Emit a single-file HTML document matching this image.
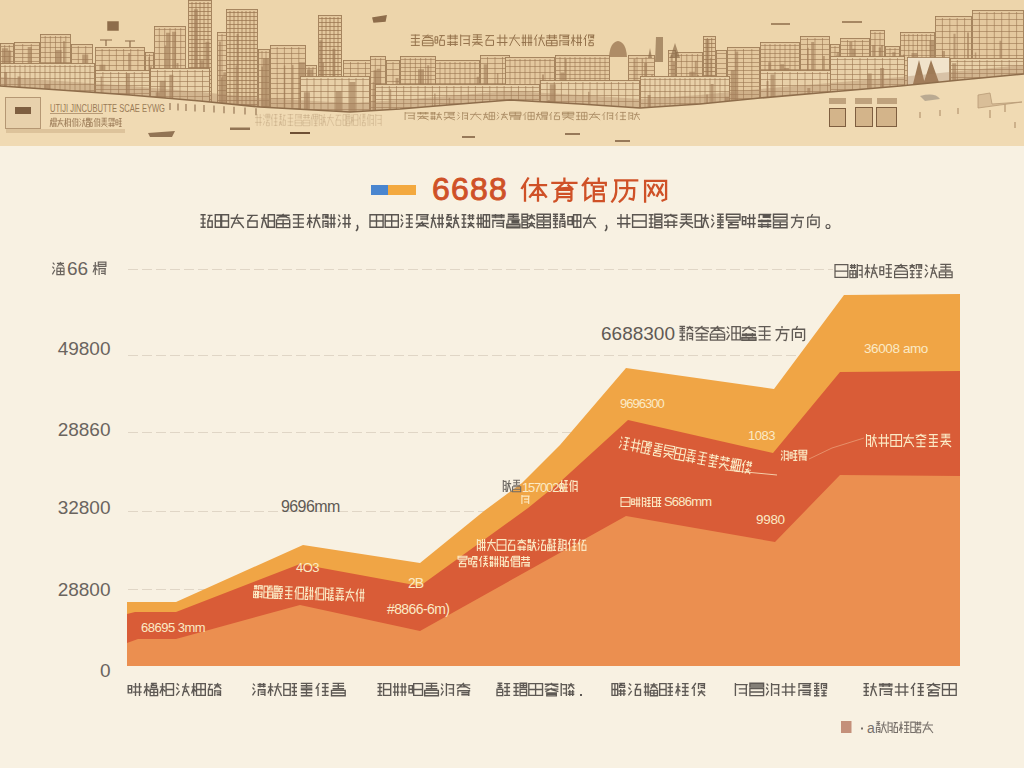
<!DOCTYPE html><html><head><meta charset="utf-8"><title>chart</title><style>html,body{margin:0;padding:0;background:#F8F1E2;width:1024px;height:768px;overflow:hidden}svg{display:block;font-family:"Liberation Sans",sans-serif}</style></head><body>
<svg width="1024" height="768" viewBox="0 0 1024 768">
<rect x="0" y="0" width="1024" height="146" fill="#EDD5AB"/>
<rect x="0.5" y="43.5" width="13" height="75" fill="#E4C89E" stroke="#9F7D58" stroke-width="0.9"/><path d="M1 46.5H13M1 51.5H13M1 56.5H13M1 61.5H13M1 66.5H13M1 71.5H13M1 76.5H13M1 81.5H13M1 86.5H13M1 91.5H13M1 96.5H13M1 101.5H13M1 106.5H13M1 111.5H13M1 116.5H13M4.7 45V118M9.3 45V118" stroke="#9A7651" stroke-width="0.8" opacity="0.75" fill="none"/><path d="M7.5 76.8H9V118H7.5ZM1.9 48.2H7.9V118H1.9ZM6.1 49.2H7.6V118H6.1ZM5.2 49.4H7.2V118H5.2ZM5.2 50.6H11.2V118H5.2Z" fill="#9E7A55" opacity="0.6"/>
<rect x="14.5" y="42.5" width="25" height="76" fill="#E4C89E" stroke="#9F7D58" stroke-width="0.9"/><path d="M15 45.5H39M15 49.5H39M15 53.5H39M15 57.5H39M15 61.5H39M15 65.5H39M15 69.5H39M15 73.5H39M15 77.5H39M15 81.5H39M15 85.5H39M15 89.5H39M15 93.5H39M15 97.5H39M15 101.5H39M15 105.5H39M15 109.5H39M15 113.5H39M15 117.5H39M22.7 44V118M31.3 44V118" stroke="#9A7651" stroke-width="0.8" opacity="0.75" fill="none"/><path d="M27.7 46.9H31.7V118H27.7ZM19.9 77.6H25.9V118H19.9Z" fill="#9E7A55" opacity="0.6"/>
<rect x="40.5" y="34.5" width="30" height="84" fill="#E4C89E" stroke="#9F7D58" stroke-width="0.9"/><path d="M41 37.5H70M41 42.5H70M41 47.5H70M41 52.5H70M41 57.5H70M41 62.5H70M41 67.5H70M41 72.5H70M41 77.5H70M41 82.5H70M41 87.5H70M41 92.5H70M41 97.5H70M41 102.5H70M41 107.5H70M41 112.5H70M41 117.5H70M45.2 36V118M50.3 36V118M55.5 36V118M60.7 36V118M65.8 36V118" stroke="#9A7651" stroke-width="0.8" opacity="0.75" fill="none"/><path d="M55.6 50H61.6V118H55.6ZM63 41.3H65V118H63ZM56.4 52.6H58.4V118H56.4Z" fill="#9E7A55" opacity="0.6"/>
<rect x="71.5" y="44.5" width="21" height="74" fill="#E4C89E" stroke="#9F7D58" stroke-width="0.9"/><path d="M72 47.5H92M72 53.5H92M72 59.5H92M72 65.5H92M72 71.5H92M72 77.5H92M72 83.5H92M72 89.5H92M72 95.5H92M72 101.5H92M72 107.5H92M72 113.5H92M78.3 46V118M85.7 46V118" stroke="#9A7651" stroke-width="0.8" opacity="0.75" fill="none"/><path d="M82.2 54.6H88.2V118H82.2ZM84.2 75.8H88.2V118H84.2Z" fill="#9E7A55" opacity="0.6"/>
<rect x="95.5" y="47.5" width="49" height="71" fill="#E4C89E" stroke="#9F7D58" stroke-width="0.9"/><path d="M96 50.5H144M96 55.5H144M96 60.5H144M96 65.5H144M96 70.5H144M96 75.5H144M96 80.5H144M96 85.5H144M96 90.5H144M96 95.5H144M96 100.5H144M96 105.5H144M96 110.5H144M96 115.5H144M102.1 49V118M109.3 49V118M116.4 49V118M123.6 49V118M130.7 49V118M137.9 49V118" stroke="#9A7651" stroke-width="0.8" opacity="0.75" fill="none"/><path d="M112.6 78.2H114.6V118H112.6ZM128.2 52.9H130.2V118H128.2ZM109.8 81.1H113.8V118H109.8ZM129.6 71.6H132.6V118H129.6ZM99.4 64.8H105.4V118H99.4Z" fill="#9E7A55" opacity="0.6"/>
<rect x="145.5" y="52.5" width="8" height="66" fill="#E4C89E" stroke="#9F7D58" stroke-width="0.9"/><path d="M146 55.5H153M146 60.5H153M146 65.5H153M146 70.5H153M146 75.5H153M146 80.5H153M146 85.5H153M146 90.5H153M146 95.5H153M146 100.5H153M146 105.5H153M146 110.5H153M146 115.5H153M149.5 54V118" stroke="#9A7651" stroke-width="0.8" opacity="0.75" fill="none"/><path d="M148.1 80.2H149.6V118H148.1ZM148.9 66.2H151.9V118H148.9ZM147.8 74.1H151.8V118H147.8ZM148.3 86.2H149.8V118H148.3ZM148.4 57H149.9V118H148.4Z" fill="#9E7A55" opacity="0.6"/>
<rect x="154.5" y="26.5" width="31" height="92" fill="#E4C89E" stroke="#9F7D58" stroke-width="0.9"/><path d="M155 29.5H185M155 35.5H185M155 41.5H185M155 47.5H185M155 53.5H185M155 59.5H185M155 65.5H185M155 71.5H185M155 77.5H185M155 83.5H185M155 89.5H185M155 95.5H185M155 101.5H185M155 107.5H185M155 113.5H185M159.3 28V118M164.7 28V118M170 28V118M175.3 28V118M180.7 28V118" stroke="#9A7651" stroke-width="0.8" opacity="0.75" fill="none"/><path d="M163 69.8H167V118H163ZM164.7 45.4H168.7V118H164.7ZM172.1 31.7H176.1V118H172.1ZM176.5 63H178.5V118H176.5ZM166.1 32.7H170.1V118H166.1Z" fill="#9E7A55" opacity="0.6"/>
<rect x="217.5" y="32.5" width="9" height="86" fill="#E4C89E" stroke="#9F7D58" stroke-width="0.9"/><path d="M218 35.5H226M218 40.5H226M218 45.5H226M218 50.5H226M218 55.5H226M218 60.5H226M218 65.5H226M218 70.5H226M218 75.5H226M218 80.5H226M218 85.5H226M218 90.5H226M218 95.5H226M218 100.5H226M218 105.5H226M218 110.5H226M218 115.5H226M222 34V118" stroke="#9A7651" stroke-width="0.8" opacity="0.75" fill="none"/><path d="M223.3 72.2H226V118H223.3ZM219.7 77.4H223.7V118H219.7ZM222.1 76.2H226V118H222.1ZM218.9 41.5H220.9V118H218.9Z" fill="#9E7A55" opacity="0.6"/>
<rect x="258.5" y="49.5" width="11" height="69" fill="#E4C89E" stroke="#9F7D58" stroke-width="0.9"/><path d="M259 52.5H269M259 58.5H269M259 64.5H269M259 70.5H269M259 76.5H269M259 82.5H269M259 88.5H269M259 94.5H269M259 100.5H269M259 106.5H269M259 112.5H269M262 51V118M266 51V118" stroke="#9A7651" stroke-width="0.8" opacity="0.75" fill="none"/><path d="M262.9 58.3H268.9V118H262.9ZM261.3 66.5H263.3V118H261.3Z" fill="#9E7A55" opacity="0.6"/>
<rect x="270.5" y="45.5" width="35" height="73" fill="#E4C89E" stroke="#9F7D58" stroke-width="0.9"/><path d="M271 48.5H305M271 53.5H305M271 58.5H305M271 63.5H305M271 68.5H305M271 73.5H305M271 78.5H305M271 83.5H305M271 88.5H305M271 93.5H305M271 98.5H305M271 103.5H305M271 108.5H305M271 113.5H305M277.2 47V118M284.4 47V118M291.6 47V118M298.8 47V118" stroke="#9A7651" stroke-width="0.8" opacity="0.75" fill="none"/><path d="M301.5 82.7H305V118H301.5ZM292 64.7H293.5V118H292ZM298.9 62.3H304.9V118H298.9ZM283.8 65.6H285.3V118H283.8Z" fill="#9E7A55" opacity="0.6"/>
<rect x="305.5" y="65.5" width="11" height="53" fill="#E4C89E" stroke="#9F7D58" stroke-width="0.9"/><path d="M306 68.5H316M306 73.5H316M306 78.5H316M306 83.5H316M306 88.5H316M306 93.5H316M306 98.5H316M306 103.5H316M306 108.5H316M306 113.5H316M309 67V118M313 67V118" stroke="#9A7651" stroke-width="0.8" opacity="0.75" fill="none"/><path d="M306.5 79.7H308.5V118H306.5ZM306.9 69.4H312.9V118H306.9ZM306 82.2H308V118H306Z" fill="#9E7A55" opacity="0.6"/>
<rect x="343.5" y="60.5" width="29" height="58" fill="#E4C89E" stroke="#9F7D58" stroke-width="0.9"/><path d="M344 63.5H372M344 68.5H372M344 73.5H372M344 78.5H372M344 83.5H372M344 88.5H372M344 93.5H372M344 98.5H372M344 103.5H372M344 108.5H372M344 113.5H372M350.5 62V118M358 62V118M365.5 62V118" stroke="#9A7651" stroke-width="0.8" opacity="0.75" fill="none"/><path d="M345.8 80.8H347.8V118H345.8ZM347.9 90.7H350.9V118H347.9Z" fill="#9E7A55" opacity="0.6"/>
<rect x="370.5" y="56.5" width="15" height="62" fill="#E4C89E" stroke="#9F7D58" stroke-width="0.9"/><path d="M371 59.5H385M371 65.5H385M371 71.5H385M371 77.5H385M371 83.5H385M371 89.5H385M371 95.5H385M371 101.5H385M371 107.5H385M371 113.5H385M375.3 58V118M380.7 58V118" stroke="#9A7651" stroke-width="0.8" opacity="0.75" fill="none"/><path d="M372.5 89.8H376.5V118H372.5ZM376.6 68.7H380.6V118H376.6ZM372.7 82H375.7V118H372.7ZM376.7 75H378.7V118H376.7ZM373.5 70.2H379.5V118H373.5Z" fill="#9E7A55" opacity="0.6"/>
<rect x="386.5" y="60.5" width="13" height="58" fill="#E4C89E" stroke="#9F7D58" stroke-width="0.9"/><path d="M387 63.5H399M387 69.5H399M387 75.5H399M387 81.5H399M387 87.5H399M387 93.5H399M387 99.5H399M387 105.5H399M387 111.5H399M387 117.5H399M393 62V118" stroke="#9A7651" stroke-width="0.8" opacity="0.75" fill="none"/><path d="M394.6 91.4H397.6V118H394.6ZM395.6 78H398.6V118H395.6Z" fill="#9E7A55" opacity="0.6"/>
<rect x="400.5" y="56.5" width="35" height="62" fill="#E4C89E" stroke="#9F7D58" stroke-width="0.9"/><path d="M401 59.5H435M401 63.5H435M401 67.5H435M401 71.5H435M401 75.5H435M401 79.5H435M401 83.5H435M401 87.5H435M401 91.5H435M401 95.5H435M401 99.5H435M401 103.5H435M401 107.5H435M401 111.5H435M401 115.5H435M405.1 58V118M410.3 58V118M415.4 58V118M420.6 58V118M425.7 58V118M430.9 58V118" stroke="#9A7651" stroke-width="0.8" opacity="0.75" fill="none"/><path d="M418 69.2H424V118H418ZM408.1 84H410.1V118H408.1ZM427.2 65.2H429.2V118H427.2Z" fill="#9E7A55" opacity="0.6"/>
<rect x="435.5" y="60.5" width="44" height="58" fill="#E4C89E" stroke="#9F7D58" stroke-width="0.9"/><path d="M436 63.5H479M436 68.5H479M436 73.5H479M436 78.5H479M436 83.5H479M436 88.5H479M436 93.5H479M436 98.5H479M436 103.5H479M436 108.5H479M436 113.5H479M440 62V118M445 62V118M450 62V118M455 62V118M460 62V118M465 62V118M470 62V118M475 62V118" stroke="#9A7651" stroke-width="0.8" opacity="0.75" fill="none"/><path d="M476.6 76.7H479V118H476.6ZM443.9 90.7H449.9V118H443.9Z" fill="#9E7A55" opacity="0.6"/>
<rect x="480.5" y="55.5" width="29" height="63" fill="#E4C89E" stroke="#9F7D58" stroke-width="0.9"/><path d="M481 58.5H509M481 63.5H509M481 68.5H509M481 73.5H509M481 78.5H509M481 83.5H509M481 88.5H509M481 93.5H509M481 98.5H509M481 103.5H509M481 108.5H509M481 113.5H509M487.5 57V118M495 57V118M502.5 57V118" stroke="#9A7651" stroke-width="0.8" opacity="0.75" fill="none"/><path d="M505.8 60.5H508.8V118H505.8ZM483.7 64.2H487.7V118H483.7ZM486.3 89H492.3V118H486.3ZM496.9 73.1H498.4V118H496.9Z" fill="#9E7A55" opacity="0.6"/>
<rect x="505.5" y="57.5" width="49" height="61" fill="#E4C89E" stroke="#9F7D58" stroke-width="0.9"/><path d="M506 60.5H554M506 66.5H554M506 72.5H554M506 78.5H554M506 84.5H554M506 90.5H554M506 96.5H554M506 102.5H554M506 108.5H554M506 114.5H554M510 59V118M515 59V118M520 59V118M525 59V118M530 59V118M535 59V118M540 59V118M545 59V118M550 59V118" stroke="#9A7651" stroke-width="0.8" opacity="0.75" fill="none"/><path d="M544.4 87.7H545.9V118H544.4ZM542 74.6H544V118H542Z" fill="#9E7A55" opacity="0.6"/>
<rect x="555.5" y="55.5" width="54" height="63" fill="#E4C89E" stroke="#9F7D58" stroke-width="0.9"/><path d="M556 58.5H609M556 62.5H609M556 66.5H609M556 70.5H609M556 74.5H609M556 78.5H609M556 82.5H609M556 86.5H609M556 90.5H609M556 94.5H609M556 98.5H609M556 102.5H609M556 106.5H609M556 110.5H609M556 114.5H609M560 57V118M565 57V118M570 57V118M575 57V118M580 57V118M585 57V118M590 57V118M595 57V118M600 57V118M605 57V118" stroke="#9A7651" stroke-width="0.8" opacity="0.75" fill="none"/><path d="M560.4 72.6H564.4V118H560.4ZM593.9 80.8H595.4V118H593.9ZM564.7 58.9H566.7V118H564.7ZM586.1 83.4H590.1V118H586.1Z" fill="#9E7A55" opacity="0.6"/>
<rect x="628.5" y="55.5" width="26" height="63" fill="#E4C89E" stroke="#9F7D58" stroke-width="0.9"/><path d="M629 58.5H654M629 62.5H654M629 66.5H654M629 70.5H654M629 74.5H654M629 78.5H654M629 82.5H654M629 86.5H654M629 90.5H654M629 94.5H654M629 98.5H654M629 102.5H654M629 106.5H654M629 110.5H654M629 114.5H654M637 57V118M646 57V118" stroke="#9A7651" stroke-width="0.8" opacity="0.75" fill="none"/><path d="M644.1 62.9H647.1V118H644.1ZM641.6 58.4H643.1V118H641.6ZM651.3 74.6H652.8V118H651.3ZM650.5 89.1H654V118H650.5ZM633.5 58.9H635.5V118H633.5Z" fill="#9E7A55" opacity="0.6"/>
<rect x="668.5" y="50.5" width="7" height="68" fill="#E4C89E" stroke="#9F7D58" stroke-width="0.9"/><path d="M669 53.5H675M669 57.5H675M669 61.5H675M669 65.5H675M669 69.5H675M669 73.5H675M669 77.5H675M669 81.5H675M669 85.5H675M669 89.5H675M669 93.5H675M669 97.5H675M669 101.5H675M669 105.5H675M669 109.5H675M669 113.5H675M669 117.5H675" stroke="#9A7651" stroke-width="0.8" opacity="0.75" fill="none"/><path d="M672.1 61.8H675V118H672.1ZM670.7 55.1H672.7V118H670.7ZM672 75.5H675V118H672Z" fill="#9E7A55" opacity="0.6"/>
<rect x="676.5" y="52.5" width="26" height="66" fill="#E4C89E" stroke="#9F7D58" stroke-width="0.9"/><path d="M677 55.5H702M677 61.5H702M677 67.5H702M677 73.5H702M677 79.5H702M677 85.5H702M677 91.5H702M677 97.5H702M677 103.5H702M677 109.5H702M677 115.5H702M681.4 54V118M686.8 54V118M692.2 54V118M697.6 54V118" stroke="#9A7651" stroke-width="0.8" opacity="0.75" fill="none"/><path d="M689.2 71.8H695.2V118H689.2ZM697.1 75.1H699.1V118H697.1ZM694.8 60.7H696.8V118H694.8Z" fill="#9E7A55" opacity="0.6"/>
<rect x="716.5" y="50.5" width="10" height="68" fill="#E4C89E" stroke="#9F7D58" stroke-width="0.9"/><path d="M717 53.5H726M717 58.5H726M717 63.5H726M717 68.5H726M717 73.5H726M717 78.5H726M717 83.5H726M717 88.5H726M717 93.5H726M717 98.5H726M717 103.5H726M717 108.5H726M717 113.5H726" stroke="#9A7651" stroke-width="0.8" opacity="0.75" fill="none"/><path d="M720.9 76.2H723.9V118H720.9ZM720.7 79.7H724.7V118H720.7Z" fill="#9E7A55" opacity="0.6"/>
<rect x="727.5" y="47.5" width="32" height="71" fill="#E4C89E" stroke="#9F7D58" stroke-width="0.9"/><path d="M728 50.5H759M728 54.5H759M728 58.5H759M728 62.5H759M728 66.5H759M728 70.5H759M728 74.5H759M728 78.5H759M728 82.5H759M728 86.5H759M728 90.5H759M728 94.5H759M728 98.5H759M728 102.5H759M728 106.5H759M728 110.5H759M728 114.5H759M735.2 49V118M743.5 49V118M751.8 49V118" stroke="#9A7651" stroke-width="0.8" opacity="0.75" fill="none"/><path d="M735.2 51.5H738.2V118H735.2ZM730.8 69.9H734.8V118H730.8Z" fill="#9E7A55" opacity="0.6"/>
<rect x="760.5" y="42.5" width="39" height="76" fill="#E4C89E" stroke="#9F7D58" stroke-width="0.9"/><path d="M761 45.5H799M761 49.5H799M761 53.5H799M761 57.5H799M761 61.5H799M761 65.5H799M761 69.5H799M761 73.5H799M761 77.5H799M761 81.5H799M761 85.5H799M761 89.5H799M761 93.5H799M761 97.5H799M761 101.5H799M761 105.5H799M761 109.5H799M761 113.5H799M761 117.5H799M765 44V118M770 44V118M775 44V118M780 44V118M785 44V118M790 44V118M795 44V118" stroke="#9A7651" stroke-width="0.8" opacity="0.75" fill="none"/><path d="M783.1 68H789.1V118H783.1ZM768.2 62.2H771.2V118H768.2ZM780.2 64.3H784.2V118H780.2ZM769.9 78.3H775.9V118H769.9Z" fill="#9E7A55" opacity="0.6"/>
<rect x="800.5" y="36.5" width="29" height="82" fill="#E4C89E" stroke="#9F7D58" stroke-width="0.9"/><path d="M801 39.5H829M801 44.5H829M801 49.5H829M801 54.5H829M801 59.5H829M801 64.5H829M801 69.5H829M801 74.5H829M801 79.5H829M801 84.5H829M801 89.5H829M801 94.5H829M801 99.5H829M801 104.5H829M801 109.5H829M801 114.5H829M807.5 38V118M815 38V118M822.5 38V118" stroke="#9A7651" stroke-width="0.8" opacity="0.75" fill="none"/><path d="M822.8 56.1H824.8V118H822.8ZM811.2 42H814.2V118H811.2ZM807.3 47.7H808.8V118H807.3Z" fill="#9E7A55" opacity="0.6"/>
<rect x="830.5" y="44.5" width="9" height="74" fill="#E4C89E" stroke="#9F7D58" stroke-width="0.9"/><path d="M831 47.5H839M831 52.5H839M831 57.5H839M831 62.5H839M831 67.5H839M831 72.5H839M831 77.5H839M831 82.5H839M831 87.5H839M831 92.5H839M831 97.5H839M831 102.5H839M831 107.5H839M831 112.5H839M831 117.5H839M835 46V118" stroke="#9A7651" stroke-width="0.8" opacity="0.75" fill="none"/><path d="M836.6 52.3H839V118H836.6ZM836.3 55.1H839V118H836.3ZM836.7 79.7H839V118H836.7Z" fill="#9E7A55" opacity="0.6"/>
<rect x="840.5" y="38.5" width="29" height="80" fill="#E4C89E" stroke="#9F7D58" stroke-width="0.9"/><path d="M841 41.5H869M841 45.5H869M841 49.5H869M841 53.5H869M841 57.5H869M841 61.5H869M841 65.5H869M841 69.5H869M841 73.5H869M841 77.5H869M841 81.5H869M841 85.5H869M841 89.5H869M841 93.5H869M841 97.5H869M841 101.5H869M841 105.5H869M841 109.5H869M841 113.5H869M841 117.5H869M847.5 40V118M855 40V118M862.5 40V118" stroke="#9A7651" stroke-width="0.8" opacity="0.75" fill="none"/><path d="M845.2 80.8H849.2V118H845.2ZM851.5 48.8H855.5V118H851.5ZM849.3 41.8H852.3V118H849.3Z" fill="#9E7A55" opacity="0.6"/>
<rect x="870.5" y="30.5" width="14" height="88" fill="#E4C89E" stroke="#9F7D58" stroke-width="0.9"/><path d="M871 33.5H884M871 39.5H884M871 45.5H884M871 51.5H884M871 57.5H884M871 63.5H884M871 69.5H884M871 75.5H884M871 81.5H884M871 87.5H884M871 93.5H884M871 99.5H884M871 105.5H884M871 111.5H884M871 117.5H884M875 32V118M880 32V118" stroke="#9A7651" stroke-width="0.8" opacity="0.75" fill="none"/><path d="M878.7 47.6H882.7V118H878.7ZM877.9 75.3H883.9V118H877.9ZM872.2 75.8H874.2V118H872.2ZM872.2 45H875.2V118H872.2ZM881 44.9H883V118H881Z" fill="#9E7A55" opacity="0.6"/>
<rect x="885.5" y="46.5" width="14" height="72" fill="#E4C89E" stroke="#9F7D58" stroke-width="0.9"/><path d="M886 49.5H899M886 53.5H899M886 57.5H899M886 61.5H899M886 65.5H899M886 69.5H899M886 73.5H899M886 77.5H899M886 81.5H899M886 85.5H899M886 89.5H899M886 93.5H899M886 97.5H899M886 101.5H899M886 105.5H899M886 109.5H899M886 113.5H899M886 117.5H899M890 48V118M895 48V118" stroke="#9A7651" stroke-width="0.8" opacity="0.75" fill="none"/><path d="M890.5 82.1H896.5V118H890.5ZM892.3 52.2H895.3V118H892.3ZM886.6 64.3H888.6V118H886.6ZM886.8 71.8H888.3V118H886.8Z" fill="#9E7A55" opacity="0.6"/>
<rect x="900.5" y="32.5" width="34" height="86" fill="#E4C89E" stroke="#9F7D58" stroke-width="0.9"/><path d="M901 35.5H934M901 40.5H934M901 45.5H934M901 50.5H934M901 55.5H934M901 60.5H934M901 65.5H934M901 70.5H934M901 75.5H934M901 80.5H934M901 85.5H934M901 90.5H934M901 95.5H934M901 100.5H934M901 105.5H934M901 110.5H934M901 115.5H934M904.4 34V118M908.8 34V118M913.1 34V118M917.5 34V118M921.9 34V118M926.2 34V118M930.6 34V118" stroke="#9A7651" stroke-width="0.8" opacity="0.75" fill="none"/><path d="M903.1 54.5H904.6V118H903.1ZM911.5 53H917.5V118H911.5ZM929.4 40.6H934V118H929.4Z" fill="#9E7A55" opacity="0.6"/>
<rect x="935.5" y="16.5" width="36" height="102" fill="#E4C89E" stroke="#9F7D58" stroke-width="0.9"/><path d="M936 19.5H971M936 25.5H971M936 31.5H971M936 37.5H971M936 43.5H971M936 49.5H971M936 55.5H971M936 61.5H971M936 67.5H971M936 73.5H971M936 79.5H971M936 85.5H971M936 91.5H971M936 97.5H971M936 103.5H971M936 109.5H971M936 115.5H971M942.4 18V118M949.8 18V118M957.2 18V118M964.6 18V118" stroke="#9A7651" stroke-width="0.8" opacity="0.75" fill="none"/><path d="M967 32.4H969V118H967ZM942 51.1H945V118H942ZM953.5 33.8H955.5V118H953.5Z" fill="#9E7A55" opacity="0.6"/>
<rect x="972.5" y="10.5" width="51" height="108" fill="#E4C89E" stroke="#9F7D58" stroke-width="0.9"/><path d="M973 13.5H1023M973 19.5H1023M973 25.5H1023M973 31.5H1023M973 37.5H1023M973 43.5H1023M973 49.5H1023M973 55.5H1023M973 61.5H1023M973 67.5H1023M973 73.5H1023M973 79.5H1023M973 85.5H1023M973 91.5H1023M973 97.5H1023M973 103.5H1023M973 109.5H1023M973 115.5H1023M979.4 12V118M986.9 12V118M994.3 12V118M1001.7 12V118M1009.1 12V118M1016.6 12V118" stroke="#9A7651" stroke-width="0.8" opacity="0.75" fill="none"/><path d="M986 66.7H987.5V118H986ZM974.8 52.6H976.3V118H974.8ZM999.5 40.8H1001.5V118H999.5Z" fill="#9E7A55" opacity="0.6"/>
<rect x="188.5" y="0.5" width="23" height="118" fill="#E4C89E" stroke="#9F7D58" stroke-width="0.9"/><path d="M189 3.5H211M189 7.5H211M189 11.5H211M189 15.5H211M189 19.5H211M189 23.5H211M189 27.5H211M189 31.5H211M189 35.5H211M189 39.5H211M189 43.5H211M189 47.5H211M189 51.5H211M189 55.5H211M189 59.5H211M189 63.5H211M189 67.5H211M189 71.5H211M189 75.5H211M189 79.5H211M189 83.5H211M189 87.5H211M189 91.5H211M189 95.5H211M189 99.5H211M189 103.5H211M189 107.5H211M189 111.5H211M189 115.5H211M192 2V118M196 2V118M200 2V118M204 2V118M208 2V118" stroke="#9A7651" stroke-width="0.8" opacity="0.95" fill="none"/><path d="M193.9 9.3H197.9V118H193.9ZM205.4 41.7H209.4V118H205.4ZM199.9 60.2H203.9V118H199.9Z" fill="#9E7A55" opacity="0.6"/>
<rect x="226.5" y="9.5" width="31" height="109" fill="#E4C89E" stroke="#9F7D58" stroke-width="0.9"/><path d="M227 12.5H257M227 16.5H257M227 20.5H257M227 24.5H257M227 28.5H257M227 32.5H257M227 36.5H257M227 40.5H257M227 44.5H257M227 48.5H257M227 52.5H257M227 56.5H257M227 60.5H257M227 64.5H257M227 68.5H257M227 72.5H257M227 76.5H257M227 80.5H257M227 84.5H257M227 88.5H257M227 92.5H257M227 96.5H257M227 100.5H257M227 104.5H257M227 108.5H257M227 112.5H257M227 116.5H257M230 11V118M234 11V118M238 11V118M242 11V118M246 11V118M250 11V118M254 11V118" stroke="#9A7651" stroke-width="0.8" opacity="0.95" fill="none"/><path d="M235.6 65.5H237.6V118H235.6ZM236.6 34.1H238.6V118H236.6ZM236.7 57.6H238.2V118H236.7Z" fill="#9E7A55" opacity="0.6"/>
<rect x="318.5" y="15.5" width="23" height="103" fill="#E4C89E" stroke="#9F7D58" stroke-width="0.9"/><path d="M319 18.5H341M319 22.5H341M319 26.5H341M319 30.5H341M319 34.5H341M319 38.5H341M319 42.5H341M319 46.5H341M319 50.5H341M319 54.5H341M319 58.5H341M319 62.5H341M319 66.5H341M319 70.5H341M319 74.5H341M319 78.5H341M319 82.5H341M319 86.5H341M319 90.5H341M319 94.5H341M319 98.5H341M319 102.5H341M319 106.5H341M319 110.5H341M319 114.5H341M322 17V118M326 17V118M330 17V118M334 17V118M338 17V118" stroke="#9A7651" stroke-width="0.8" opacity="0.95" fill="none"/><path d="M319.3 40.2H322.3V118H319.3ZM320.1 62.8H324.1V118H320.1ZM332.4 48.8H335.4V118H332.4Z" fill="#9E7A55" opacity="0.6"/>
<rect x="703.5" y="36.5" width="12" height="82" fill="#E4C89E" stroke="#9F7D58" stroke-width="0.9"/><path d="M704 39.5H715M704 43.5H715M704 47.5H715M704 51.5H715M704 55.5H715M704 59.5H715M704 63.5H715M704 67.5H715M704 71.5H715M704 75.5H715M704 79.5H715M704 83.5H715M704 87.5H715M704 91.5H715M704 95.5H715M704 99.5H715M704 103.5H715M704 107.5H715M704 111.5H715M704 115.5H715M707.3 38V118M711.7 38V118" stroke="#9A7651" stroke-width="0.8" opacity="0.95" fill="none"/><path d="M710.2 57.8H711.7V118H710.2ZM705.4 39.1H709.4V118H705.4ZM707.3 78.9H710.3V118H707.3Z" fill="#9E7A55" opacity="0.6"/>
<path d="M609 57 Q610 42 618 41 Q626 42 627 57Z" fill="#A27F59" opacity="0.85"/>
<path d="M655 62 L656 37 L663 37 L663 62Z" fill="#8E6D4B" opacity="0.7"/><path d="M670 58 L675 43 L680 58Z M648 58 L650 48 L652 58Z" fill="#8E6D4B" opacity="0.7"/>
<path d="M100 40 H112 M106 40 V46 M125 41 H135 M130 41 V47" stroke="#8E6D4B" stroke-width="1.2"/>
<rect x="0.5" y="63.5" width="94" height="55" fill="#E8D0A8" stroke="#9F7D58" stroke-width="0.9"/><path d="M1 66.5H94M1 72.5H94M1 78.5H94M1 84.5H94M1 90.5H94M1 96.5H94M1 102.5H94M1 108.5H94M1 114.5H94M5 65V118M10 65V118M15 65V118M20 65V118M25 65V118M30 65V118M35 65V118M40 65V118M45 65V118M50 65V118M55 65V118M60 65V118M65 65V118M70 65V118M75 65V118M80 65V118M85 65V118M90 65V118" stroke="#9A7651" stroke-width="0.8" opacity="0.75" fill="none"/><path d="M4.1 72H7.1V118H4.1ZM17.6 76.5H20.6V118H17.6ZM44.2 84H50.2V118H44.2Z" fill="#9E7A55" opacity="0.6"/>
<rect x="95.5" y="70.5" width="54" height="48" fill="#E8D0A8" stroke="#9F7D58" stroke-width="0.9"/><path d="M96 73.5H149M96 77.5H149M96 81.5H149M96 85.5H149M96 89.5H149M96 93.5H149M96 97.5H149M96 101.5H149M96 105.5H149M96 109.5H149M96 113.5H149M96 117.5H149M102.9 72V118M110.7 72V118M118.6 72V118M126.4 72V118M134.3 72V118M142.1 72V118" stroke="#9A7651" stroke-width="0.8" opacity="0.75" fill="none"/><path d="M100.6 76.5H102.1V118H100.6ZM125.9 73.5H129.9V118H125.9Z" fill="#9E7A55" opacity="0.6"/>
<rect x="150.5" y="68.5" width="59" height="50" fill="#E8D0A8" stroke="#9F7D58" stroke-width="0.9"/><path d="M151 71.5H209M151 76.5H209M151 81.5H209M151 86.5H209M151 91.5H209M151 96.5H209M151 101.5H209M151 106.5H209M151 111.5H209M151 116.5H209M157.5 70V118M165 70V118M172.5 70V118M180 70V118M187.5 70V118M195 70V118M202.5 70V118" stroke="#9A7651" stroke-width="0.8" opacity="0.75" fill="none"/><path d="M155.7 92.3H161.7V118H155.7ZM159.7 80.7H165.7V118H159.7ZM169.3 74.7H173.3V118H169.3Z" fill="#9E7A55" opacity="0.6"/>
<rect x="300.5" y="76.5" width="69" height="42" fill="#E8D0A8" stroke="#9F7D58" stroke-width="0.9"/><path d="M301 79.5H369M301 85.5H369M301 91.5H369M301 97.5H369M301 103.5H369M301 109.5H369M301 115.5H369M307 78V118M314 78V118M321 78V118M328 78V118M335 78V118M342 78V118M349 78V118M356 78V118M363 78V118" stroke="#9A7651" stroke-width="0.8" opacity="0.75" fill="none"/><path d="M303.9 92.2H309.9V118H303.9ZM349.4 81.9H355.4V118H349.4ZM335.6 90.9H341.6V118H335.6Z" fill="#9E7A55" opacity="0.6"/>
<rect x="375.5" y="84.5" width="164" height="34" fill="#E8D0A8" stroke="#9F7D58" stroke-width="0.9"/><path d="M376 87.5H539M376 91.5H539M376 95.5H539M376 99.5H539M376 103.5H539M376 107.5H539M376 111.5H539M376 115.5H539M382.2 86V118M389.3 86V118M396.5 86V118M403.7 86V118M410.9 86V118M418 86V118M425.2 86V118M432.4 86V118M439.6 86V118M446.7 86V118M453.9 86V118M461.1 86V118M468.3 86V118M475.4 86V118M482.6 86V118M489.8 86V118M497 86V118M504.1 86V118M511.3 86V118M518.5 86V118M525.7 86V118M532.8 86V118" stroke="#9A7651" stroke-width="0.8" opacity="0.75" fill="none"/><path d="M389.7 89.3H391.2V118H389.7ZM434.1 93.4H435.6V118H434.1ZM448.7 97.7H450.2V118H448.7Z" fill="#9E7A55" opacity="0.6"/>
<rect x="540.5" y="80.5" width="99" height="38" fill="#E8D0A8" stroke="#9F7D58" stroke-width="0.9"/><path d="M541 83.5H639M541 89.5H639M541 95.5H639M541 101.5H639M541 107.5H639M541 113.5H639M547.1 82V118M554.3 82V118M561.4 82V118M568.6 82V118M575.7 82V118M582.9 82V118M590 82V118M597.1 82V118M604.3 82V118M611.4 82V118M618.6 82V118M625.7 82V118M632.9 82V118" stroke="#9A7651" stroke-width="0.8" opacity="0.75" fill="none"/><path d="M588 91.7H589.5V118H588ZM547.7 100.1H553.7V118H547.7ZM549.8 84.3H555.8V118H549.8Z" fill="#9E7A55" opacity="0.6"/>
<rect x="640.5" y="76.5" width="89" height="42" fill="#E8D0A8" stroke="#9F7D58" stroke-width="0.9"/><path d="M641 79.5H729M641 85.5H729M641 91.5H729M641 97.5H729M641 103.5H729M641 109.5H729M641 115.5H729M645 78V118M650 78V118M655 78V118M660 78V118M665 78V118M670 78V118M675 78V118M680 78V118M685 78V118M690 78V118M695 78V118M700 78V118M705 78V118M710 78V118M715 78V118M720 78V118M725 78V118" stroke="#9A7651" stroke-width="0.8" opacity="0.75" fill="none"/><path d="M710.6 83.9H713.6V118H710.6ZM706.1 94.5H708.1V118H706.1ZM724.9 96.8H728.9V118H724.9ZM647.6 95.1H650.6V118H647.6Z" fill="#9E7A55" opacity="0.6"/>
<rect x="760.5" y="70.5" width="74" height="48" fill="#E8D0A8" stroke="#9F7D58" stroke-width="0.9"/><path d="M761 73.5H834M761 79.5H834M761 85.5H834M761 91.5H834M761 97.5H834M761 103.5H834M761 109.5H834M761 115.5H834M767.5 72V118M775 72V118M782.5 72V118M790 72V118M797.5 72V118M805 72V118M812.5 72V118M820 72V118M827.5 72V118" stroke="#9A7651" stroke-width="0.8" opacity="0.75" fill="none"/><path d="M766.5 81H768.5V118H766.5ZM807.3 87.9H810.3V118H807.3ZM770.5 74.5H774.5V118H770.5Z" fill="#9E7A55" opacity="0.6"/>
<rect x="830.5" y="56.5" width="74" height="62" fill="#E8D0A8" stroke="#9F7D58" stroke-width="0.9"/><path d="M831 59.5H904M831 64.5H904M831 69.5H904M831 74.5H904M831 79.5H904M831 84.5H904M831 89.5H904M831 94.5H904M831 99.5H904M831 104.5H904M831 109.5H904M831 114.5H904M837.5 58V118M845 58V118M852.5 58V118M860 58V118M867.5 58V118M875 58V118M882.5 58V118M890 58V118M897.5 58V118" stroke="#9A7651" stroke-width="0.8" opacity="0.75" fill="none"/><path d="M880.1 68H884.1V118H880.1ZM867.7 73.4H871.7V118H867.7Z" fill="#9E7A55" opacity="0.6"/>
<rect x="950.5" y="58.5" width="73" height="60" fill="#E8D0A8" stroke="#9F7D58" stroke-width="0.9"/><path d="M951 61.5H1023M951 65.5H1023M951 69.5H1023M951 73.5H1023M951 77.5H1023M951 81.5H1023M951 85.5H1023M951 89.5H1023M951 93.5H1023M951 97.5H1023M951 101.5H1023M951 105.5H1023M951 109.5H1023M951 113.5H1023M951 117.5H1023M957.4 60V118M964.8 60V118M972.2 60V118M979.6 60V118M987 60V118M994.4 60V118M1001.8 60V118M1009.2 60V118M1016.6 60V118" stroke="#9A7651" stroke-width="0.8" opacity="0.75" fill="none"/><path d="M972.8 89.1H974.3V118H972.8ZM952.2 63.3H956.2V118H952.2ZM986.5 90.8H990.5V118H986.5Z" fill="#9E7A55" opacity="0.6"/>
<rect x="907.5" y="57.5" width="42" height="31" fill="#F1E3CB" stroke="#9F7D58" stroke-width="0.8"/>
<path d="M912 88 L919 60 L926 88Z M922 88 L931 60 L941 88Z" fill="#9E7A56"/>
<polygon points="0,77 60,81 130,86 200,92 260,98 350,103 400,100 460,95 510,91 580,95 640,99 700,95 760,89 830,83 900,77 960,71 1024,65 1024,74 960,80 900,86 830,92 760,98 700,104 640,108 580,104 510,100 460,104 400,109 350,112 260,107 200,101 130,95 60,90 0,86" fill="#A98560" opacity="0.35"/>
<polygon points="0,86 60,90 130,95 200,101 260,107 350,112 400,109 460,104 510,100 580,104 640,108 700,104 760,98 830,92 900,86 960,80 1024,74 1024,146 0,146" fill="#F0DAB3"/>
<polyline points="0,86 60,90 130,95 200,101 260,107 350,112 400,109 460,104 510,100 580,104 640,108 700,104 760,98 830,92 900,86 960,80 1024,74" fill="none" stroke="#8E6D4B" stroke-width="1.6"/>
<rect x="5.5" y="97.5" width="35" height="31" fill="#E8D1AC" stroke="#B59773" stroke-width="1"/>
<path d="M15 107H31V114H15Z" fill="#7E5E40"/>
<text x="50" y="111.5" font-size="11" fill="#9A7A56" textLength="115" lengthAdjust="spacingAndGlyphs">UTIJI  JINCUBUTTE SCAE EYWG</text>
<path d="M170 103.0V110.0M178 103.5V110.5M186 104.0V111.0M195 104.5V111.5M204 105.0V112.0M214 105.6V112.6M224 106.2V113.2M234 106.8V113.8M245 107.5V114.5M256 108.2V115.2" stroke="#8E6E4D" stroke-width="1.1"/>
<path d="M230 127.5 H250 V130 H230Z" fill="#7A5A3C" opacity="0.8"/>
<path d="M6 129 H125 V133 H6Z" fill="#C9AC84" opacity="0.5"/>
<line x1="50" y1="113.5" x2="103" y2="113.5" stroke="#9E7E5C" stroke-width="0.7"/>
<path d="M50 120.7H52.6M51.5 118L50.1 127M51.3 121.6L52.6 127M50.5 123.8H52.1M53 118.2H56.3V121.8H53ZM53 120H56.3M53.3 123V127M53.3 123.4H56.3M56 123.4V127M54.2 124.8H56M54.2 126.1H56M57.3 120.7H63.6M60.8 118L57.6 127M60.4 121.6L63.6 127M58.6 123.8H62.3M64.6 120.7H66.5M65.5 118V127M65.5 121.2L64.6 125.2M65.6 122L66.5 123.8M67.3 118V127M67.3 119.1H70.9M70.5 119.1V127M68.3 122H70.5M68.3 125H70.5M73.9 118L72 122M73.2 120.7V127M75.1 118V127M75.1 119.1H78.2M77.8 119.1V127M76 122H77.8M76 125H77.8M79.7 118.5L80.7 119.8M79.5 121.2L80.5 122.5M79.5 126.5L81 123.4M82.1 120.7H85.5M84 118L82.3 127M83.8 121.6L85.5 127M86.5 118.2H89.5V121H86.5ZM86.5 119.6H89.5M88 118.2V121M86.5 122.3H89.5V126.8H86.5ZM86.5 124.5H89.5M90.1 118.9H92.5M91.3 118.9L90.4 122.5M90.3 122.5H92.3V126.5H90.3ZM95.8 118L93.9 122M95.1 120.7V127M97 118V127M97 119.1H100.1M99.7 119.1V127M97.9 122H99.7M97.9 125H99.7M101.6 118.2H106.9M101.6 120.1H106.9M101.6 121.9H106.9M104.2 118V122.1M101.1 124.1H107.4M104.6 122.9L101.4 127M104.2 124.5L107.4 127M109 118V121.7M109 118.4H114.7M114.1 118.4V121.7M110.6 119.7H114.1M110.6 120.9H114.1M110.3 122.4V127M113.1 122.4V127M108.4 123.8H114.7M108.4 125.6H114.7M115.8 119.8H118V124.8H115.8ZM115.8 122.3H118M118.9 118.5H121.7M118.9 121.2H121.7M118.9 123.8H121.7M118.9 126.5H121.7M120.3 118V127" stroke="#9A7A56" stroke-width="0.75" fill="none"/>
<path d="M148 133 L175 131 L172 137 L150 137Z" fill="#7A5A3C" opacity="0.8"/>
<path d="M405.1 112V120M405.1 113H415.4M414.2 113V120M408 115.6H414.2M408 118.2H414.2M420.6 112V114.5M425.7 112V114.5M417.2 112.7H428.6M417.2 113.7H428.6M417.2 116.6H428.6M423.4 115.1L417.8 120M422.9 117.1L428.6 120M419.5 118.3H426.3M432 112V114.8M434.4 112V114.8M430.4 112.8H435.7M430.4 114H435.7M432 115.6V120M434.4 115.6V120M430.4 116.9H435.7M430.4 118.7H435.7M436.4 114.4H441.8M439.4 112L436.7 120M439.1 115.2L441.8 120M437.5 117.2H440.7M444.7 112V115.7M444.7 112.4H455M453.8 112.4V115.7M447.6 113.7H453.8M447.6 114.9H453.8M443.6 117.4H455M449.8 116.3L444.2 120M449.3 117.8L455 120M457.7 112.4L459.5 113.6M457.3 114.8L459.1 116M457.3 119.6L460 116.8M462.6 112V120M462.6 113H468.2M467.5 113V120M464.2 115.6H467.5M464.2 118.2H467.5M470 114.4H481.4M476.2 112L470.6 120M475.7 115.2L481.4 120M483.2 114.4H488.5M486.1 112L483.5 120M485.9 115.2L488.5 120M484.3 117.2H487.5M489.2 112.4H494.6V119.6H489.2ZM489.2 116H494.6M491.9 112.4V119.6M497.2 112.4L498.8 113.6M496.8 114.8L498.4 116M496.8 119.6L499.2 116.8M501.1 114.4H507.8M504.7 112L501.4 120M504.4 115.2L507.8 120M502.4 117.2H506.4M509.6 112.2H521V115.5H509.6ZM509.6 113.8H521M515.3 112.2V115.5M510.7 116.3V120M510.7 116.8H521M519.8 116.8V120M513.6 118H519.8M513.6 119.2H519.8M526.4 112L523 115.6M525.1 114.4V120M528 112.4H534.2V119.6H528ZM528 116H534.2M531.1 112.4V119.6M536 114.4H540.8M538.6 112L536.2 120M538.4 115.2L540.8 120M541.4 112.2H547.4V115.4H541.4ZM541.4 113.8H547.4M542 116.4V120M542 116.8H547.4M546.8 116.8V120M543.5 118H546.8M543.5 119.2H546.8M551.9 112L549.4 115.6M550.9 114.4V120M554 112.8H559.8M556.9 112.8L554.7 116M554.4 116H559.5V119.6H554.4ZM562.4 112.2H573.8V115.1H562.4ZM562.4 113.6H573.8M568.1 112.2V115.1M562.4 117.1H573.8M568.6 115.9L563 120M568.1 117.6L573.8 120M576 112.4H580.5M576 116H580.5M576 119.6H580.5M578.3 112V120M581.6 112.4H587V119.6H581.6ZM581.6 116H587M584.3 112.4V119.6M588.8 114.4H600.2M595 112L589.4 120M594.5 115.2L600.2 120M591.1 117.2H597.9M605.2 112L602.2 115.6M604 114.4V120M607.3 112V120M607.3 113H613.4M612.7 113V120M609 115.6H612.7M609 118.2H612.7M617.9 112L615.4 115.6M616.9 114.4V120M619.9 112.4H626M619.9 116H626M619.9 119.6H626M622.9 112V120M628.9 112V120M628.9 113H633.2M632.7 113V120M630.1 115.6H632.7M630.1 118.2H632.7M633.8 114.4H639.8M637.1 112L634.1 120M636.8 115.2L639.8 120" stroke="#A08058" stroke-width="0.75" fill="none"/>
<path d="M257.1 114V126M260.2 114V126M255 117.6H261.9M255 122.4H261.9M263.5 114.6L264.4 116.4M263.2 118.2L264.2 120M263.2 125.4L264.7 121.2M265.8 114.2H269.9V118H265.8ZM265.8 116.1H269.9M267.9 114.2V118M266.2 120.1H269.5M267.9 120.1L266.6 122.7M266.4 122.7H269.3V125.7H266.4ZM272.7 114L271.1 119.4M272 117.6V126M273.8 114.6H277.5M273.8 118.2H277.5M273.8 121.8H277.5M273.8 125.4H277.5M275.7 114V126M279.3 114.3H282M279.3 116.7H282M279.3 119.1H282M280.6 114V119.4M279 122.2H282.2M280.8 120.6L279.2 126M280.6 122.8L282.2 126M279.6 124.1H281.6M283 115.2H285.6M284.3 115.2L283.3 120M283.1 120H285.4V125.4H283.1ZM287.6 114.6H293.3M287.6 118.2H293.3M287.6 121.8H293.3M287.6 125.4H293.3M290.4 114V126M295.7 114V118.9M295.7 114.6H301.9M301.2 114.6V118.9M297.4 116.2H301.2M297.4 117.8H301.2M295 120.2H301.9V125.7H295ZM295 122.9H301.9M305.1 114V118.9M308.2 114V118.9M303 115.5H309.9M303 117.4H309.9M303 120.2H309.9V125.7H303ZM303 122.9H309.9M312.7 114L311.1 119.4M312 117.6V126M313.5 114.3H317.9V119.1H313.5ZM313.5 116.7H317.9M315.7 114.3V119.1M313.8 120.9H317.5M313.8 123.3H317.5M313.8 125.7H317.5M315.7 120.6V126M319.3 114V126M319.3 115.4H322.2M321.9 115.4V126M320.1 119.4H321.9M320.1 123.4H321.9M322.6 117.6H325.9M324.4 114L322.8 126M324.3 118.8L325.9 126M323.3 121.8H325.2M327 117.6H333.9M330.8 114L327.3 126M330.4 118.8L333.9 126M335.7 115.2H341.2M338.4 115.2L336.4 120M336 120H340.8V125.4H336ZM343 114.6H345.9V125.4H343ZM343 120H345.9M346.3 114.3H349.9V119.1H346.3ZM346.3 116.7H349.9M348.1 114.3V119.1M346.3 120.9H349.9V125.7H346.3ZM346.3 123.3H349.9M351 117.6H353.1M352 114V126M352 118.2L351 123.6M352.1 119.4L353.1 121.8M353.5 114.6H357.9V125.4H353.5ZM353.5 120H357.9M360.9 114L359.1 119.4M360.2 117.6V126M362.1 114.2H365.6M362.1 116.1H365.6M362.1 118H365.6M363.9 114V118.2M362.2 120.1H365.5M363.9 120.1L362.6 122.7M362.4 122.7H365.3V125.7H362.4ZM368.7 114L367.1 119.4M368 117.6V126M369.9 114V126M369.9 115.4H373.9M373.4 115.4V126M371 119.4H373.4M371 123.4H373.4M375.7 114V126M375.7 115.4H381.9M381.2 115.4V126M377.4 119.4H381.2M377.4 123.4H381.2" stroke="#A0805E" stroke-width="0.7" fill="none" opacity="0.4"/>
<path d="M290 133 H310" stroke="#6E5035" stroke-width="2"/>
<path d="M462 137 H475 M565 134 H580 M615 141 H630" stroke="#7A5A3C" stroke-width="1.6"/>
<path d="M829 98H846V104H829Z M855 98H872V104H855Z M877 98H897V104H877Z" fill="#9E7D59" opacity="0.6"/>
<path d="M830 110.5H845M830 113.5H845M830 116.5H845M830 119.5H845M830 122.5H845M830 125.5H845M856 110.5H872M856 113.5H872M856 116.5H872M856 119.5H872M856 122.5H872M856 125.5H872M877 110.5H896M877 113.5H896M877 116.5H896M877 119.5H896M877 122.5H896M877 125.5H896" stroke="#8A6947" stroke-width="0.9"/>
<path d="M920 112V118M940 110V116M958 108V114M990 110V118M1005 104V112M1015 122V128" stroke="#A98763" stroke-width="1"/>
<rect x="829.5" y="108.5" width="16" height="18" fill="#D3B48A" stroke="#7E5E40"/>
<rect x="855.5" y="107.5" width="17" height="19" fill="#D3B48A" stroke="#7E5E40"/>
<rect x="876.5" y="107.5" width="20" height="19" fill="#D3B48A" stroke="#7E5E40"/>
<path d="M920 96 Q935 92 940 99 L925 101Z" fill="#A39684" opacity="0.7"/>
<path d="M978 95 L990 93 L992 104 L1022 102 L978 108Z" fill="#D9BE98" stroke="#B89B76" stroke-width="0.8"/>
<path d="M410.9 35.1H419.8M410.9 38.5H419.8M410.9 42H419.8M410.9 45.4H419.8M415.3 34.5V46M422.4 35.9H433.1M428.3 34.5L422.9 39.2M427.7 36.4L433.1 39.2M424.5 37.6H430.9M422.4 40.4H433.1V45.7H422.4ZM422.4 43.1H433.1M435 36.8H437.7V43.1H435ZM435 40H437.7M439.3 35.6H444.8M442.1 35.6L440 40.2M439.7 40.2H444.4V45.4H439.7ZM450.4 34.5V39.8M455.2 34.5V39.8M447.2 36.1H457.9M447.2 38.2H457.9M450.4 40.7V46M455.2 40.7V46M447.2 42.3H457.9M447.2 44.4H457.9M460.7 34.5V46M460.7 35.9H470.3M469.2 35.9V46M463.3 39.7H469.2M463.3 43.5H469.2M472.9 34.8H481.8M472.9 37.1H481.8M472.9 39.5H481.8M477.3 34.5V39.8M472 42.3H482.7M477.9 40.7L472.5 46M477.3 42.8L482.7 46M474.1 44.1H480.5M485.5 35.6H494M489.7 35.6L486.5 40.2M486 40.2H493.5V45.4H486ZM500 34.5V46M504.8 34.5V46M496.8 38H507.5M496.8 42.5H507.5M509.2 38H519.9M515.1 34.5L509.7 46M514.5 39.1L519.9 46M523.1 34.5V46M525.4 34.5V46M521.6 38H526.6M521.6 42.5H526.6M528.8 34.5V46M531 34.5V46M527.3 38H532.3M527.3 42.5H532.3M537 34.5L534.2 39.7M535.9 38V46M538.4 38H544.7M541.8 34.5L538.7 46M541.5 39.1L544.7 46M549.6 34.5V39.2M554.4 34.5V39.2M546.4 35.9H557.1M546.4 37.8H557.1M546.4 40.4H557.1V45.7H546.4ZM546.4 43.1H557.1M551.7 40.4V45.7M559.9 34.5V39.2M559.9 35.1H569.5M568.4 35.1V39.2M562.5 36.6H568.4M562.5 38.2H568.4M559.9 40.1V46M559.9 40.8H569.5M568.4 40.8V46M562.5 42.8H568.4M562.5 44.7H568.4M571.2 38H575.5M573.3 34.5V46M573.3 38.5L571.2 43.7M573.5 39.7L575.5 42M577.8 34.5V46M580.4 34.5V46M576.1 38H581.9M576.1 42.5H581.9M586.6 34.5L583.8 39.7M585.5 38V46M588.6 34.5V38.5M588.6 35H594.3M593.6 35V38.5M590.2 36.3H593.6M590.2 37.6H593.6M588.6 40.3H593.6M591.1 40.3L589.2 42.8M588.9 42.8H593.3V45.7H588.9Z" stroke="#94724C" stroke-width="1.0" fill="none"/>
<path d="M108 22 H118 V30 H108Z M373 18 L386 16 L385 21 L374 22Z M771 24 H790 M842 22 H862" stroke="#8E6D4B" stroke-width="1.5" fill="#8E6D4B"/>
<rect x="371" y="185" width="17" height="10" fill="#4A86CF"/>
<rect x="388" y="185" width="28" height="10" fill="#F3A93F"/>
<text x="432" y="200" font-size="32" fill="#CF5127" letter-spacing="1.2" stroke="#CF5127" stroke-width="0.9">6688</text>
<path transform="translate(521 178.5) scale(1.0 0.96)" d="M7 0L1 10M4 7V23M9 7H25M17 0V23M17 8L9 19M17 8L25 19M12 17H22" stroke="#CF5127" stroke-width="2.3" fill="none" stroke-linecap="square"/>
<path transform="translate(551.4 178.5) scale(1.0 0.96)" d="M13 0V3M1 4.5H25M12 5L6 10.5L20 9.5M17 7L21 11M6 12V20Q6 23 3 24M6 12H20V22Q20 24 17 23M6 16H20M6 19.5H20" stroke="#CF5127" stroke-width="2.3" fill="none" stroke-linecap="square"/>
<path transform="translate(581.8 178.5) scale(1.0 0.96)" d="M6 0L1 7M3 4.5H9M3.5 6V22L9 18M17 0V3M10 7V4.5H24V7M12 8.5H21V13H12M12 8.5V23.5M12 16.5H22V23.5H12" stroke="#CF5127" stroke-width="2.3" fill="none" stroke-linecap="square"/>
<path transform="translate(612.2 178.5) scale(1.0 0.96)" d="M3 2H25M4 2V14Q3.5 20 0 24M8 10H22Q22 20 21 22L17.5 21M15 4V12Q14 19 7.5 24" stroke="#CF5127" stroke-width="2.3" fill="none" stroke-linecap="square"/>
<path transform="translate(642.6 178.5) scale(1.0 0.96)" d="M2.5 24V2.5H23.5V21.5L20 23M5.5 7L11.5 17M11.5 6.5L6 18M14 7L20 17M20 6.5L14.5 18" stroke="#CF5127" stroke-width="2.3" fill="none" stroke-linecap="square"/>
<path d="M200.5 214.7H205.7M200.5 218.9H205.7M200.5 223.1H205.7M200.5 227.3H205.7M203.1 214V228M207.6 215.4H212.5M210.1 215.4L208.2 221M207.9 221H212.2V227.3H207.9ZM215.3 214.7H220.8V227.3H215.3ZM215.3 221H220.8M221.6 214.7H228.5V227.3H221.6ZM221.6 221H228.5M230.6 218.2H243.8M237.8 214L231.3 228M237.2 219.6L243.8 228M233.2 223.1H241.1M247.2 215.4H257.7M252.5 215.4L248.5 221M247.9 221H257.1V227.3H247.9ZM261.2 218.2H267.4M264.6 214L261.5 228M264.3 219.6L267.4 228M268.2 214.7H274.4V227.3H268.2ZM268.2 221H274.4M276.5 215.3H289.7M283.7 214L277.2 218.3M283.1 215.7L289.7 218.3M279.1 216.8H287M276.5 219.9H289.7V227.6H276.5ZM276.5 223.7H289.7M283.1 219.9V227.6M292.9 214.7H303.9M292.9 218.9H303.9M292.9 223.1H303.9M292.9 227.3H303.9M298.4 214V228M307.1 218.2H312.4M309.7 214V228M309.7 218.9L307.1 225.2M310 220.3L312.4 223.1M313.2 218.2H320.3M317.1 214L313.5 228M316.7 219.6L320.3 228M323 214V218.9M323 214.6H328.6M328 214.6V218.9M324.6 216.2H328M324.6 217.8H328M323 220.3V228M323 221.2H328.6M328 221.2V228M324.6 223.8H328M324.6 226.3H328M331.2 214V228M334 214V228M329.4 218.2H335.6M329.4 223.8H335.6M338.5 214.7L340.1 216.8M338.1 218.9L339.7 221M338.1 227.3L340.5 222.4M345 214V228M348.8 214V228M342.4 218.2H350.9M342.4 223.8H350.9" stroke="#5A5550" stroke-width="1.4" fill="none"/>
<path d="M370 214.7H383.1V227.3H370ZM370 221H383.1M376.5 214.7V227.3M385.2 214.7H398.3V227.3H385.2ZM385.2 221H398.3M391.7 214.7V227.3M401.2 214.7L402.8 216.8M400.8 218.9L402.4 221M400.8 227.3L403.1 222.4M405.8 214.7H412.8M405.8 218.9H412.8M405.8 223.1H412.8M405.8 227.3H412.8M409.3 214V228M416.9 214V220.4M416.9 214.8H428.7M427.4 214.8V220.4M420.2 216.9H427.4M420.2 219H427.4M415.6 223.5H428.7M422.8 221.6L416.3 228M422.1 224.1L428.7 228M418.2 225.7H426.1M430.8 218.2H436.3M433.8 214L431.1 228M433.5 219.6L436.3 228M439.1 214V228M442.2 214V228M437.1 218.2H443.9M437.1 223.8H443.9M446.6 214.6H451.5M449.1 214.6L447.2 217.2M446.9 217.2H451.2V220H446.9ZM446 223.6H452.1M449.4 221.7L446.3 228M449.1 224.2L452.1 228M447.2 225.8H450.9M452.9 218.2H459.1M456.3 214L453.2 228M456 219.6L459.1 228M454.2 223.1H457.8M461.6 214.7H466.3M461.6 218.9H466.3M461.6 223.1H466.3M461.6 227.3H466.3M463.9 214V228M469.5 214V220.3M472.6 214V220.3M467.5 215.9H474.3M467.5 218.4H474.3M467.5 223.6H474.3M471.2 221.7L467.8 228M470.9 224.2L474.3 228M468.8 225.8H472.9M478.2 214V228M481 214V228M476.4 218.2H482.5M476.4 223.8H482.5M483.3 214.7H489.5V227.3H483.3ZM483.3 221H489.5M486.4 214.7V227.3M495.5 214V218.3M501.4 214V218.3M491.6 215.3H504.7M491.6 217H504.7M492.9 219.5V228M492.9 220.5H504.7M503.4 220.5V228M496.2 223.3H503.4M496.2 226.1H503.4M507.8 214.2H518.8M507.8 216.2H518.8M507.8 218.1H518.8M513.3 214V218.3M508.1 219.5V223.3M508.1 219.9H519.9M518.6 219.9V223.3M511.4 221.2H518.6M511.4 222.5H518.6M506.8 224.3H519.9V227.8H506.8ZM506.8 226.1H519.9M522 214.3H527.5V220H522ZM522 217.2H527.5M522 222H527.5V227.7H522ZM522 224.8H527.5M528.3 215.9H535.1M532 214L528.6 220.3M531.7 216.5L535.1 220.3M529.6 218.1H533.7M528.3 223.6H535.1M532 221.7L528.6 228M531.7 224.2L535.1 228M529.6 225.8H533.7M537.2 214.3H550.3V220.1H537.2ZM537.2 217.2H550.3M543.7 214.3V220.1M537.2 221.9H550.3V227.7H537.2ZM537.2 224.8H550.3M543.7 221.9V227.7M552.9 214.2H558.1M552.9 216.4H558.1M552.9 218.7H558.1M555.5 214V218.9M552.9 220.7H558.1M552.9 224.1H558.1M552.9 227.6H558.1M555.5 220.3V228M559.8 214.2H565M559.8 216.4H565M559.8 218.7H565M562.4 214V218.9M559.9 220.3V228M559.9 221.2H565.5M564.9 221.2V228M561.5 223.8H564.9M561.5 226.3H564.9M567.9 216.8H572.3V224.5H567.9ZM567.9 220.7H572.3M573.6 214.7H580.7V227.3H573.6ZM573.6 221H580.7M577.1 214.7V227.3M582.8 218.2H595.9M590 214L583.5 228M589.3 219.6L595.9 228M585.4 223.1H593.3" stroke="#5A5550" stroke-width="1.4" fill="none"/>
<path d="M621 214V228M627.1 214V228M617 218.2H630.5M617 223.8H630.5M632.6 214.7H646.1V227.3H632.6ZM632.6 221H646.1M648.8 214.7H653.5M648.8 218.9H653.5M648.8 223.1H653.5M648.8 227.3H653.5M651.1 214V228M654.8 214.3H661.8V220H654.8ZM654.8 217.2H661.8M654.8 222H661.8V227.7H654.8ZM654.8 224.8H661.8M664 215.3H677.4M671.4 214L664.6 218.3M670.7 215.7L677.4 218.3M668 219.5V228M674 219.5V228M664 222H677.4M664 225.4H677.4M680.7 214.3H692M680.7 216.9H692M680.7 219.5H692M686.3 214V219.7M679.6 223H693.1M687 220.9L680.3 228M686.3 223.7L693.1 228M695.2 214.7H701.6V227.3H695.2ZM695.2 221H701.6M702.4 218.2H708.7M705.9 214L702.7 228M705.5 219.6L708.7 228M711.8 214.7L713.7 216.8M711.4 218.9L713.3 221M711.4 227.3L714.2 222.4M717.1 214.3H723.7M717.1 217.2H723.7M717.1 220H723.7M720.4 214V220.3M717.1 222H723.7M717.1 224.8H723.7M717.1 227.7H723.7M720.4 221.7V228M726.5 214.3H740V220.1H726.5ZM726.5 217.2H740M727.9 222.2H738.7M733.3 222.2L729.2 224.8M728.6 224.8H738V227.7H728.6ZM742.4 216.8H745.8V224.5H742.4ZM742.4 220.7H745.8M749.6 214V228M753.5 214V228M747 218.2H755.7M747 223.8H755.7M759.2 214V218.3M759.2 214.5H771.3M770 214.5V218.3M762.6 216H770M762.6 217.4H770M761.9 219.5V222.4M767.9 219.5V222.4M757.9 220.4H771.3M757.9 221.6H771.3M761.9 223.3V228M767.9 223.3V228M757.9 224.7H771.3M757.9 226.6H771.3M773.5 214.3H787V220.1H773.5ZM773.5 217.2H787M773.5 221.9H787V227.7H773.5ZM773.5 224.8H787M780.2 221.9V227.7" stroke="#5A5550" stroke-width="1.4" fill="none"/>
<path transform="translate(790 214) scale(0.875)" d="M8 0V2.5M1 4H16M6.5 4Q6.5 12 1.5 16M6.5 8H13Q13 14 12 15.5L9.5 15" stroke="#5A5550" stroke-width="1.49" fill="none"/>
<path transform="translate(806 214) scale(0.875)" d="M7.5 0L6 3M2 3.5V16M2 3.5H15V14Q15 16 12.5 15.5M5.5 7H11.5V12H5.5Z" stroke="#5A5550" stroke-width="1.49" fill="none"/>
<path d="M357 225 Q359 228 356 231 M606 225 Q608 228 605 231" stroke="#5A5550" stroke-width="1.6" fill="none"/>
<circle cx="828" cy="226.5" r="2" stroke="#5A5550" stroke-width="1.1" fill="none"/>
<line x1="128" y1="269.5" x2="833" y2="269.5" stroke="#E0D6C6" stroke-width="1" stroke-dasharray="10 4"/>
<line x1="128" y1="355.5" x2="798" y2="355.5" stroke="#E0D6C6" stroke-width="1" stroke-dasharray="10 4"/>
<line x1="128" y1="432.5" x2="960" y2="432.5" stroke="#E0D6C6" stroke-width="1" stroke-dasharray="10 4"/>
<line x1="128" y1="511.5" x2="960" y2="511.5" stroke="#E0D6C6" stroke-width="1" stroke-dasharray="10 4"/>
<line x1="128" y1="589.5" x2="960" y2="589.5" stroke="#E0D6C6" stroke-width="1" stroke-dasharray="10 4"/>
<polygon points="127,602 176,602 303,545 420,563 484,511 522,483 560,445 626,368 774,389 844,295 960,294 960,666 127,666" fill="#F0A545"/>
<polygon points="127,614 135,612 176,612 300,564 420,586 528,508 560,482 628,420 773,453 840,372 960,371 960,666 127,666" fill="#D95C37"/>
<polygon points="127,643 138,639 176,639 300,605 420,631 626,516 775,542 840,475 960,476 960,666 127,666" fill="#EB8F50"/>
<text x="110.5" y="355" font-size="19" fill="#6A645E" text-anchor="end">49800</text>
<text x="110.5" y="436" font-size="19" fill="#6A645E" text-anchor="end">28860</text>
<text x="110.5" y="514" font-size="19" fill="#6A645E" text-anchor="end">32800</text>
<text x="110.5" y="596" font-size="19" fill="#6A645E" text-anchor="end">28800</text>
<text x="110.5" y="677" font-size="19" fill="#6A645E" text-anchor="end">0</text>
<path d="M52.8 262.6L54.5 264.6M52.4 266.6L54.1 268.5M52.4 274.4L54.9 269.8M56.9 263.4H64M60.8 262L57.3 266.6M60.5 263.8L64 266.6M58.4 265H62.6M56.9 268.2H64V274.6H56.9ZM56.9 271.4H64M60.5 268.2V274.6" stroke="#6A645E" stroke-width="1.2" fill="none"/>
<text x="67" y="275" font-size="19" fill="#6A645E">66</text>
<path d="M93 265.9H97.5M95.3 262V275M95.3 266.6L93 272.4M95.5 267.9L97.5 270.4M98.3 262.2H105.9V266.3H98.3ZM98.3 264.3H105.9M99.1 267.8V275M99.1 268.7H105.9M105.1 268.7V275M101 271.1H105.1M101 273.4H105.1" stroke="#6A645E" stroke-width="1.2" fill="none"/>
<path d="M128.2 685.6H131.7V692.8H128.2ZM128.2 689.2H131.7M135.5 683V696M139.5 683V696M132.9 686.9H141.7M132.9 692.1H141.7M143.9 686.9H149.4M146.6 683V696M146.6 687.5L143.9 693.4M146.9 688.9L149.4 691.5M150.9 683.5H156.8M153.9 683.5L151.7 685.3M151.3 685.3H156.5V687.3H151.3ZM150.2 689.2H157.6V695.6H150.2ZM150.2 692.4H157.6M153.9 689.2V695.6M159.8 686.9H165.3M162.5 683V696M162.5 687.5L159.8 693.4M162.8 688.9L165.3 691.5M166.1 683.6H173.5V695.4H166.1ZM166.1 689.5H173.5M176.8 683.6L179 685.6M176.2 687.5L178.4 689.5M176.2 695.4L179.5 690.8M182 686.9H189.4M186.1 683L182.4 696M185.7 688.2L189.4 696M183.5 691.5H187.9M191.6 686.9H195.7M193.7 683V696M193.7 687.5L191.6 693.4M193.9 688.9L195.7 691.5M196.5 683.6H205.3V695.4H196.5ZM196.5 689.5H205.3M200.9 683.6V695.4M208.1 684.3H212.7M210.4 684.3L208.6 689.5M208.4 689.5H212.4V695.4H208.4ZM214.1 684.8H221.2M218 683L214.4 688.9M217.6 685.3L221.2 688.9M215.5 686.8H219.8M214.8 690.1V696M214.8 690.9H221.2M220.5 690.9V696M216.6 692.8H220.5M216.6 694.7H220.5" stroke="#5E5954" stroke-width="1.35" fill="none"/>
<path d="M253 683.6L254.9 685.6M252.5 687.5L254.4 689.5M252.5 695.4L255.4 690.8M260 683V687.5M263.7 683V687.5M257.6 684.4H265.7M257.6 686.2H265.7M258.4 688.9V696M258.4 689.7H265.7M264.9 689.7V696M260.4 692.1H264.9M260.4 694.4H264.9M267.9 686.9H273.4M270.6 683V696M270.6 687.5L267.9 693.4M270.9 688.9L273.4 691.5M274.2 686.9H281.6M278.3 683L274.6 696M277.9 688.2L281.6 696M283.8 683.6H290.2V695.4H283.8ZM283.8 689.5H290.2M291.6 683.6H297M291.6 687.5H297M291.6 691.5H297M291.6 695.4H297M294.3 683V696M300.8 683.3H312.3M300.8 685.7H312.3M300.8 688.1H312.3M306.5 683V688.3M300.8 689.7H312.3M300.8 692.7H312.3M300.8 695.7H312.3M306.5 689.4V696M319.4 683L315.8 688.9M318 686.9V696M321.9 683.6H328.6M321.9 687.5H328.6M321.9 691.5H328.6M321.9 695.4H328.6M325.2 683V696M332.6 683.3H344.1M332.6 686H344.1M332.6 688.7H344.1M338.3 683V689M331.5 690.3H345.2V695.7H331.5ZM331.5 693H345.2" stroke="#5E5954" stroke-width="1.35" fill="none"/>
<path d="M377.5 683.6H382.3M377.5 687.5H382.3M377.5 691.5H382.3M377.5 695.4H382.3M379.9 683V696M383.6 683.6H390.7V695.4H383.6ZM383.6 689.5H390.7M394.8 683V696M397.7 683V696M392.9 686.9H399.3M392.9 692.1H399.3M402.1 683V696M405 683V696M400.1 686.9H406.6M400.1 692.1H406.6M409 685.6H412.5V692.8H409ZM409 689.2H412.5M413.7 683.6H422.5V695.4H413.7ZM413.7 689.5H422.5M425.8 683.3H437.3M425.8 686H437.3M425.8 688.7H437.3M431.5 683V689M424.7 690.3H438.4V695.7H424.7ZM424.7 693H438.4M441.4 683.6L443.1 685.6M441 687.5L442.7 689.5M441 695.4L443.5 690.8M446.4 683V696M446.4 684.6H454.3M453.4 684.6V696M448.6 688.9H453.4M448.6 693.1H453.4M456.5 684.8H470.2M464 683L457.2 689M463.3 685.4L470.2 689M459.2 686.9H467.4M457.9 690V696M457.9 690.7H470.2M468.8 690.7V696M461.3 692.7H468.8M461.3 694.7H468.8" stroke="#5E5954" stroke-width="1.35" fill="none"/>
<path d="M497.5 683.2H502.3M497.5 685.3H502.3M497.5 687.3H502.3M499.9 683V687.5M497 689.2H502.7V695.6H497ZM497 692.4H502.7M504.1 683.6H510.1M504.1 687.5H510.1M504.1 691.5H510.1M504.1 695.4H510.1M507.1 683V696M513.4 683.6H518.8M513.4 687.5H518.8M513.4 691.5H518.8M513.4 695.4H518.8M516.1 683V696M520.1 683.2H526.6V687.3H520.1ZM520.1 685.3H526.6M523.4 683.2V687.3M520.1 689.2H526.6V695.6H520.1ZM520.1 692.4H526.6M528.8 683.6H542.5V695.4H528.8ZM528.8 689.5H542.5M535.6 683.6V695.4M544.7 684.2H558.4M552.2 683L545.4 687M551.5 684.6L558.4 687M544.7 689.1H558.4M552.2 688.1L545.4 691.6M551.5 689.5L558.4 691.6M546.1 692.8H557M551.5 692.8L547.4 694.2M546.8 694.2H556.3V695.8H546.8ZM561.2 683V696M561.2 684.6H567M566.4 684.6V696M562.8 688.9H566.4M562.8 693.1H566.4M567.8 684.8H574.3M571.4 683L568.2 688.9M571.1 685.3L574.3 688.9M569.8 690.1V696M572.7 690.1V696M567.8 691.9H574.3M567.8 694.2H574.3" stroke="#5E5954" stroke-width="1.35" fill="none"/>
<path d="M612 683.6H617.7V695.4H612ZM612 689.5H617.7M614.9 683.6V695.4M619.3 683.5H625M622.1 683.5L620 685.3M619.6 685.3H624.6V687.3H619.6ZM620.7 688.9V696M623.9 688.9V696M618.6 691H625.7M618.6 693.9H625.7M629 683.6L631.2 685.6M628.4 687.5L630.6 689.5M628.4 695.4L631.7 690.8M634.9 684.3H640.8M637.9 684.3L635.7 689.5M635.3 689.5H640.5V695.4H635.3ZM645.5 683V696M648.1 683V696M643.8 686.9H649.5M643.8 692.1H649.5M650.4 684.8H657.5M654.3 683L650.7 688.9M653.9 685.3L657.5 688.9M651.8 686.8H656.1M650.4 690.4H657.5V695.7H650.4ZM650.4 693.1H657.5M653.9 690.4V695.7M659.7 683.6H666.1V695.4H659.7ZM659.7 689.5H666.1M667.5 683.6H672.9M667.5 687.5H672.9M667.5 691.5H672.9M667.5 695.4H672.9M670.2 683V696M675.6 686.9H680.4M678 683V696M678 687.5L675.6 693.4M678.2 688.9L680.4 691.5M681.9 683.6H688.6M681.9 687.5H688.6M681.9 691.5H688.6M681.9 695.4H688.6M685.2 683V696M695.9 683L691.8 688.9M694.2 686.9V696M698.5 683V688.9M698.5 683.7H705.2M704.4 683.7V688.9M700.4 685.6H704.4M700.4 687.6H704.4M697.8 691.9H705.2M701.9 690.1L698.2 696M701.5 692.5L705.2 696" stroke="#5E5954" stroke-width="1.35" fill="none"/>
<path d="M735.4 683V696M735.4 684.6H747.7M746.3 684.6V696M738.8 688.9H746.3M738.8 693.1H746.3M749.9 683.2H763.6V686.8H749.9ZM749.9 685H763.6M749.9 688.5H763.6V695.6H749.9ZM749.9 692H763.6M766.6 683.6L768.3 685.6M766.2 687.5L767.9 689.5M766.2 695.4L768.7 690.8M771.6 683V696M771.6 684.6H779.5M778.6 684.6V696M773.8 688.9H778.6M773.8 693.1H778.6M785.8 683V696M792 683V696M781.7 686.9H795.4M781.7 692.1H795.4M799 683V688.3M799 683.6H811.3M809.9 683.6V688.3M802.4 685.4H809.9M802.4 687.2H809.9M799 689.4V696M799 690.2H811.3M809.9 690.2V696M802.4 692.4H809.9M802.4 694.5H809.9M814 683.3H819.4M814 685.9H819.4M814 688.6H819.4M816.7 683V688.9M814 690.4H819.4M814 693.1H819.4M814 695.7H819.4M816.7 690.1V696M821.4 683V688.9M821.4 683.7H827.2M826.5 683.7V688.9M823 685.6H826.5M823 687.6H826.5M821.3 690.4H826.7M821.3 693.1H826.7M821.3 695.7H826.7M824 690.1V696" stroke="#5E5954" stroke-width="1.35" fill="none"/>
<path d="M863.5 683.6H868.9M863.5 687.5H868.9M863.5 691.5H868.9M863.5 695.4H868.9M866.2 683V696M870.2 686.9H876.7M873.8 683L870.6 696M873.5 688.2L876.7 696M883 683V687M889.2 683V687M878.9 684.2H892.6M878.9 685.8H892.6M880.3 688.1V696M880.3 689H892.6M891.2 689V696M883.7 691.6H891.2M883.7 694.3H891.2M898.9 683V696M905.1 683V696M894.8 686.9H908.5M894.8 692.1H908.5M915.1 683L911 688.9M913.4 686.9V696M917.6 683.6H923.8M917.6 687.5H923.8M917.6 691.5H923.8M917.6 695.4H923.8M920.7 683V696M926.6 684.6H940.3M934.1 683L927.3 688.3M933.4 685.1L940.3 688.3M928 690H938.9M933.4 690L929.3 692.7M928.7 692.7H938.2V695.7H928.7ZM942.5 683.6H956.2V695.4H942.5ZM942.5 689.5H956.2M949.3 683.6V695.4" stroke="#5E5954" stroke-width="1.35" fill="none"/>
<rect x="580" y="694" width="2" height="2" fill="#5E5954"/>
<rect x="841" y="721" width="10.5" height="12" fill="#C4907A"/>
<rect x="861" y="727.5" width="2" height="2" fill="#77706A"/>
<text x="867" y="733" font-size="14" fill="#77706A">a</text>
<path d="M876.4 721.7H880.1M876.4 723.5H880.1M876.4 725.3H880.1M878.2 721.5V725.5M876.4 726.7V733M876.4 727.4H880.5M880 727.4V733M877.6 729.5H880M877.6 731.6H880M881.1 725H886.6M884.1 721.5L881.4 733M883.8 726.1L886.6 733M888.1 721.5V733M888.1 722.9H892.6M892.1 722.9V733M889.3 726.7H892.1M889.3 730.5H892.1M893.7 722.6H897.7M895.7 722.6L894.2 727.2M894 727.2H897.5V732.4H894ZM899.2 725H902.9M901.1 721.5V733M901.1 725.5L899.2 730.7M901.2 726.7L902.9 729M904 722.1H909.3M904 725.5H909.3M904 729H909.3M904 732.4H909.3M906.7 721.5V733M910.8 722.1H915.3V732.4H910.8ZM910.8 727.2H915.3M917.5 721.5V725.5M920 721.5V725.5M915.9 722.7H921.4M915.9 724.3H921.4M916.4 727.3H920.8M918.6 727.3L917 729.8M916.7 729.8H920.6V732.7H916.7ZM922.4 725H933M928.2 721.5L922.9 733M927.7 726.1L933 733M924.5 729H930.9" stroke="#77706A" stroke-width="1.05" fill="none"/>
<text x="281" y="511.5" font-size="16" fill="#605A54" letter-spacing="-0.6">9696mm</text>
<text x="601" y="339.5" font-size="19" fill="#605A54">6688300</text>
<path d="M679.5 326.3H685.1M679.5 328.5H685.1M679.5 330.8H685.1M682.3 326V331.1M679.5 332.9H685.1M679.5 336.5H685.1M679.5 340.1H685.1M682.3 332.5V340.5M686.5 327.5H693.2M690.2 326L686.9 331.1M689.9 328L693.2 331.1M687.2 332.5V340.5M687.2 333.5H693.2M692.5 333.5V340.5M688.9 336.1H692.5M688.9 338.7H692.5M694.7 327.8H708.9M702.5 326L695.4 331.9M701.8 328.4L708.9 331.9M695.8 333.5H707.8M695.8 336.8H707.8M695.8 340.1H707.8M701.8 333.1V340.5M710.4 328H724.6M718.2 326L711.1 332.7M717.5 328.7L724.6 332.7M713.2 330.3H721.8M710.4 334.2H724.6V340.2H710.4ZM710.4 337.2H724.6M717.5 334.2V340.2M727.1 326.7L729.1 328.9M726.6 331.1L728.6 333.2M726.6 339.8L729.6 334.7M731.9 326.7H740.3V339.8H731.9ZM731.9 333.2H740.3M736.1 326.7V339.8M741.8 327.8H756M749.6 326L742.5 331.9M748.9 328.4L756 331.9M746.1 333.1V336.4M752.4 333.1V336.4M741.8 334.1H756M741.8 335.4H756M741.8 337.3H756V340.3H741.8ZM741.8 338.8H756M748.9 337.3V340.3M758.6 326.7H770.6M758.6 331.1H770.6M758.6 335.4H770.6M758.6 339.8H770.6M764.6 326V340.5" stroke="#605A54" stroke-width="1.3" fill="none"/>
<path transform="translate(774.5 326) scale(0.938)" d="M8 0V2.5M1 4H16M6.5 4Q6.5 12 1.5 16M6.5 8H13Q13 14 12 15.5L9.5 15" stroke="#605A54" stroke-width="1.44" fill="none"/>
<path transform="translate(790.5 326) scale(0.938)" d="M7.5 0L6 3M2 3.5V16M2 3.5H15V14Q15 16 12.5 15.5M5.5 7H11.5V12H5.5Z" stroke="#605A54" stroke-width="1.44" fill="none"/>
<path d="M835 264.7H847.8V277.3H835ZM835 271H847.8M851.7 264V268.9M854.4 264V268.9M849.9 265.5H855.9M849.9 267.4H855.9M849.9 270.7H855.9V277.6H849.9ZM849.9 274.2H855.9M852.9 270.7V277.6M857.3 264V278M857.3 265.7H862.7M862.1 265.7V278M858.8 270.3H862.1M858.8 274.9H862.1M864.8 268.2H869.9M867.4 264V278M867.4 268.9L864.8 275.2M867.6 270.3L869.9 273.1M870.7 268.2H877.6M874.5 264L871 278M874.2 269.6L877.6 278M872.1 273.1H876.2M879.9 266.8H883.7V274.5H879.9ZM879.9 270.7H883.7M885.6 264.7H891.9M885.6 268.9H891.9M885.6 273.1H891.9M885.6 277.3H891.9M888.7 264V278M894.6 265.7H907.4M901.6 264L895.2 269.7M901 266.3L907.4 269.7M897.2 267.7H904.9M894.6 271.2H907.4V277.6H894.6ZM894.6 274.4H907.4M909.5 265.5H914.9M912.5 264L909.8 268.9M912.2 266L914.9 268.9M910.6 267.2H913.8M909.9 270.7H914.5M909.9 274.2H914.5M909.9 277.6H914.5M912.2 270.3V278M916.3 264V268.9M916.3 264.6H922.3M921.6 264.6V268.9M918 266.2H921.6M918 267.8H921.6M916.2 270.7H921.8M916.2 274.2H921.8M916.2 277.6H921.8M919 270.3V278M925.4 264.7L927.5 266.8M924.9 268.9L927 271M924.9 277.3L928 272.4M930.3 268.2H937.2M934.1 264L930.6 278M933.8 269.6L937.2 278M931.7 273.1H935.8M940.3 264.3H951.1M940.3 267.2H951.1M940.3 270.1H951.1M945.7 264V270.4M939.3 271.9H952.1V277.7H939.3ZM939.3 274.8H952.1M945.7 271.9V277.7" stroke="#605A54" stroke-width="1.25" fill="none"/>
<text x="141" y="632" font-size="13" fill="#FBEAC5" letter-spacing="-0.5">68695 3mm</text>
<text x="296" y="571.5" font-size="13" fill="#FBEAC5" letter-spacing="-0.5">4O3</text>
<path d="M255.1 585V589.5M256.8 585V589.5M254 586.4H257.7M254 588.2H257.7M254 591.2H257.7V597.6H254ZM254 594.4H257.7M255.8 591.2V597.6M258.7 585V589.5M258.7 585.5H262.8M262.3 585.5V589.5M259.8 587H262.3M259.8 588.5H262.3M258.7 590.9V598M258.7 591.7H262.8M262.3 591.7V598M259.8 594.1H262.3M259.8 596.4H262.3M264.2 585.6H267.9V597.4H264.2ZM264.2 591.5H267.9M268.9 585.5H272.5M270.7 585.5L269.3 587.3M269.1 587.3H272.3V589.3H269.1ZM268.4 591.2H273V597.6H268.4ZM268.4 594.4H273M274.4 585.3H278.1V590.6H274.4ZM274.4 587.9H278.1M276.2 585.3V590.6M274.4 592.4H278.1V597.7H274.4ZM274.4 595.1H278.1M276.2 592.4V597.7M279.1 585.6H282.7M280.9 585.6L279.5 587.9M279.3 587.9H282.5V590.6H279.3ZM279 592.4H282.8M279 595.1H282.8M279 597.7H282.8M280.9 592.1V598M285.3 585.6H292.7M285.3 589.5H292.7M285.3 593.5H292.7M285.3 597.4H292.7M289 585V598M297.3 585L295 590.9M296.3 588.9V598M298.4 585.6H303.6V597.4H298.4ZM298.4 591.5H303.6M305.3 585.2H308.4M305.3 587.3H308.4M305.3 589.3H308.4M306.8 585V589.5M305.4 591.6H308.3M306.8 591.6L305.7 594.4M305.6 594.4H308.1V597.6H305.6ZM310.6 585V598M312.6 585V598M309.2 588.9H313.8M309.2 594.1H313.8M317.3 585L315.3 590.9M316.5 588.9V598M318.4 585.6H324V597.4H318.4ZM318.4 591.5H324M325.8 585V598M325.8 586.6H329.5M329.1 586.6V598M326.8 590.9H329.1M326.8 595.1H329.1M330.4 585.3H333.8M330.4 587.9H333.8M330.4 590.6H333.8M332.1 585V590.9M330.5 592.7H333.8M332.1 592.7L330.9 595.1M330.7 595.1H333.6V597.7H330.7ZM336.3 585.3H343.7M336.3 587.7H343.7M336.3 590.1H343.7M340 585V590.3M338.2 591.4V598M342.2 591.4V598M335.6 593.4H344.4M335.6 596H344.4M345.8 588.9H354.6M350.6 585L346.2 598M350.2 590.2L354.6 598M347.6 593.5H352.8M358.5 585L356.2 590.9M357.5 588.9V598M361.1 585V598M363.5 585V598M359.6 588.9H364.8M359.6 594.1H364.8" stroke="#FBEAC5" stroke-width="1.1" fill="none" transform="rotate(2 254 585)"/>
<text x="408" y="587.5" font-size="14" fill="#FBEAC5" letter-spacing="-1">2B</text>
<text x="387" y="614" font-size="14" fill="#FBEAC5" letter-spacing="-0.6">#8866-6m)</text>
<path d="M503.3 480V492M503.3 481.4H506.4M506.1 481.4V492M504.2 485.4H506.1M504.2 489.4H506.1M506.9 483.6H511.2M509.3 480L507.1 492M509 484.8L511.2 492M513.2 480.3H520M513.2 482.8H520M513.2 485.2H520M516.6 480V485.5M512.5 486.8H520.7V491.7H512.5ZM512.5 489.2H520.7" stroke="#6F6A64" stroke-width="1.1" fill="none"/>
<text x="522" y="492" font-size="13" fill="#FBEAC5" letter-spacing="-1.2">1570029</text>
<path d="M560 483.6H563.4M561.9 480L560.2 492M561.7 484.8L563.4 492M560.7 487.8H562.7M564.3 480.6H567.8M564.3 484.2H567.8M564.3 487.8H567.8M564.3 491.4H567.8M566 480V492M571.5 480L569.6 485.4M570.7 483.6V492M573 480V492M573 481.4H577.7M577.1 481.4V492M574.3 485.4H577.1M574.3 489.4H577.1" stroke="#FBEAC5" stroke-width="1.1" fill="none"/>
<path d="M521.9 495V504M521.9 496.1H529.6M528.7 496.1V504M524 499.1H528.7M524 502H528.7" stroke="#FBEAC5" stroke-width="1.1" fill="none"/>
<path d="M477.4 539V551M477.4 540.4H480.6M480.3 540.4V551M478.3 544.4H480.3M478.3 548.4H480.3M482.5 539V551M484.6 539V551M481.2 542.6H485.7M481.2 547.4H485.7M487.1 542.6H495.8M491.9 539L487.5 551M491.4 543.8L495.8 551M497.2 539.6H505.9V550.4H497.2ZM497.2 545H505.9M508.2 540.2H515.1M511.6 540.2L509 545M508.6 545H514.7V550.4H508.6ZM517.4 540.7H526.1M522.2 539L517.8 544.5M521.7 541.2L526.1 544.5M519.1 542.6H524.3M520 545.5V551M523.9 545.5V551M517.4 547.1H526.1M517.4 549.3H526.1M528.6 539V543.2M530.2 539V543.2M527.5 540.3H531.1M527.5 541.9H531.1M527.9 544.4V551M527.9 545.2H531.1M530.8 545.2V551M528.8 547.4H530.8M528.8 549.5H530.8M531.7 542.6H536.2M534.2 539L531.9 551M533.9 543.8L536.2 551M532.6 546.8H535.3M538.1 539.6L539.2 541.4M537.9 543.2L538.9 545M537.9 550.4L539.4 546.2M541.3 540.2H545.7M543.5 540.2L541.8 545M541.6 545H545.5V550.4H541.6ZM548 539.2H551.5M548 541.1H551.5M548 543H551.5M549.7 539V543.2M547.7 544.7H551.8V550.7H547.7ZM547.7 547.7H551.8M549.7 544.7V550.7M552.6 539.6H556.1M552.6 543.2H556.1M552.6 546.8H556.1M552.6 550.4H556.1M554.3 539V551M558.1 539.3H561.6M558.1 541.7H561.6M558.1 544.1H561.6M559.8 539V544.4M558.2 546.1H561.5M559.8 546.1L558.6 548.3M558.4 548.3H561.3V550.7H558.4ZM562.8 539V551M562.8 540.4H566.5M566.1 540.4V551M563.8 544.4H566.1M563.8 548.4H566.1M570.7 539L568.1 544.4M569.6 542.6V551M572.3 539.6H576.2M572.3 543.2H576.2M572.3 546.8H576.2M572.3 550.4H576.2M574.2 539V551M580.1 539L578.1 544.4M579.3 542.6V551M581.7 540.2H586.1M583.9 540.2L582.2 545M582 545H585.9V550.4H582Z" stroke="#FBEAC5" stroke-width="1.1" fill="none"/>
<path d="M458 556.2H467V559.2H458ZM458 557.7H467M458.9 561H466.1M462.5 561L459.8 563.6M459.4 563.6H465.7V566.7H459.4ZM468.7 558.2H471.3V564.2H468.7ZM468.7 561.3H471.3M472.7 556V559.9M472.7 556.5H477.5M477 556.5V559.9M474.1 557.7H477M474.1 559H477M472.7 561.6H477M474.9 561.6L473.3 564M473 564H476.7V566.7H473ZM481.9 556L479.2 561M480.8 559.3V567M483.5 556.2H487.6M483.5 558.5H487.6M483.5 560.7H487.6M485.6 556V561M483.2 563.5H488M485.8 562L483.4 567M485.6 564L488 567M490.6 556V559.9M492.3 556V559.9M489.5 557.2H493.3M489.5 558.7H493.3M490.6 560.9V567M492.3 560.9V567M489.5 562.8H493.3M489.5 565.2H493.3M495.2 556V567M497.4 556V567M493.8 559.3H498.5M493.8 563.7H498.5M500.4 556V567M500.4 557.3H503.8M503.4 557.3V567M501.3 561H503.4M501.3 564.6H503.4M504.8 557.1H508.6M506.7 557.1L505.3 561.5M505 561.5H508.3V566.5H505ZM512.7 556L510.6 561M511.9 559.3V567M513.8 556.2H519.5V559.7H513.8ZM513.8 557.9H519.5M513.8 561.3H519.5V566.7H513.8ZM513.8 564H519.5M523.7 556V561.1M527.8 556V561.1M521 557.5H530M521 559.5H530M521.9 561.9V567M521.9 562.5H530M529.1 562.5V567M524.2 564.2H529.1M524.2 565.9H529.1" stroke="#FBEAC5" stroke-width="1.1" fill="none"/>
<text x="620" y="408" font-size="13" fill="#FBEAC5" letter-spacing="-1">9696300</text>
<path d="M621.6 436.6L622.7 438.6M621.3 440.6L622.5 442.5M621.3 448.4L623 443.8M625 436.6H630.2M625 440.6H630.2M625 444.4H630.2M625 448.4H630.2M627.6 436V449M635.2 436V449M639.6 436V449M632.3 439.9H642M632.3 445.1H642M643.6 436.6H647.7V448.4H643.6ZM643.6 442.5H647.7M648.8 436.5H652.8M650.8 436.5L649.3 438.3M649 438.3H652.6V440.3H649ZM648.7 442.2H652.9M648.7 445.4H652.9M648.7 448.6H652.9M650.8 441.8V449M655.7 436.3H663.8M655.7 439H663.8M655.7 441.7H663.8M659.8 436V442M655.9 443.6H663.6M659.8 443.6L656.8 446M656.4 446H663.2V448.7H656.4ZM666.2 436.3H675.9V441.7H666.2ZM666.2 439H675.9M666.2 444.8H675.9M671.5 443L666.7 449M671.1 445.4L675.9 449M677.5 436.6H687.2V448.4H677.5ZM677.5 442.5H687.2M682.4 436.6V448.4M689.6 436.3H697.7M689.6 439H697.7M689.6 441.7H697.7M693.7 436V442M691.7 443V449M696.1 443V449M688.8 444.8H698.5M688.8 447.2H698.5M700.9 436.6H709M700.9 440.6H709M700.9 444.4H709M700.9 448.4H709M705 436V449M714.3 436V441.3M718.7 436V441.3M711.4 437.6H721.1M711.4 439.7H721.1M712.2 442.7H720.3M712.2 445.7H720.3M712.2 448.7H720.3M716.3 442.4V449M725.6 436V441.3M730 436V441.3M722.7 437.6H732.4M722.7 439.7H732.4M722.7 444.4H732.4M728 442.4L723.2 449M727.6 445L732.4 449M735.4 436V449M737.4 436V449M734 439.9H738.6M734 445.1H738.6M739.2 436.6H743.7V448.4H739.2ZM739.2 442.5H743.7M741.4 436.6V448.4M748 436L745.5 441.9M747 439.9V449M751 436V441.9M753.6 436V441.9M749.3 437.8H755M749.3 440.1H755M749.3 444.9H755M752.4 443.1L749.6 449M752.2 445.5L755 449M750.4 447H753.9" stroke="#FBEAC5" stroke-width="1.1" fill="none" transform="rotate(11 621 436)"/>
<path d="M725 470 L777 475" stroke="#FBEAC5" stroke-width="0.8"/>
<path d="M621 497.5H630V506.5H621ZM621 502H630M631.7 499H634.3V504.5H631.7ZM631.7 501.8H634.3M636.8 497V507M639.2 497V507M635.2 500H640.5M635.2 504H640.5M642.4 497V507M642.4 498.2H646.2M645.8 498.2V507M643.5 501.5H645.8M643.5 504.8H645.8M647.1 497.5H650.7M647.1 500.5H650.7M647.1 503.5H650.7M647.1 506.5H650.7M648.9 497V507M652.5 497.5H656.7V506.5H652.5ZM652.5 502H656.7M657.6 497.5H661.2M657.6 500.5H661.2M657.6 503.5H661.2M657.6 506.5H661.2M659.4 497V507" stroke="#FBEAC5" stroke-width="1.1" fill="none"/>
<text x="664" y="506" font-size="13" fill="#FBEAC5" letter-spacing="-0.8">S686mm</text>
<text x="748" y="440" font-size="13" fill="#FBEAC5" letter-spacing="-0.5">1083</text>
<text x="756" y="524" font-size="13.5" fill="#FBEAC5" letter-spacing="-0.3">9980</text>
<path d="M781.5 450.6L782.4 452.2M781.2 453.9L782.2 455.5M781.2 460.4L782.6 456.6M784.3 450V461M784.3 451.3H788.7M788.2 451.3V461M785.5 454.9H788.2M785.5 458.6H788.2M790.1 452.2H792.1V458.2H790.1ZM790.1 455.3H792.1M793.2 450.6H797.3M793.2 453.9H797.3M793.2 457.1H797.3M793.2 460.4H797.3M795.3 450V461M799 450.2H806.7V454.3H799ZM799 452.3H806.7M802.9 450.2V454.3M799.8 455.4V461M799.8 456.1H806.7M806 456.1V461M801.7 457.9H806M801.7 459.8H806" stroke="#FBEAC5" stroke-width="1.1" fill="none"/>
<path d="M809 459 L832 448 L864 438" stroke="#FBEAC5" stroke-width="0.8" fill="none" opacity="0.45"/>
<text x="864" y="352.5" font-size="13.5" fill="#FBEAC5" letter-spacing="-0.4">36008 amo</text>
<path d="M866.5 434V447M866.5 435.6H871M870.5 435.6V447M867.8 439.9H870.5M867.8 444.1H870.5M871.7 437.9H876.7M874.4 434L871.9 447M874.2 439.2L876.7 447M881.6 434V447M886.4 434V447M878.4 437.9H889.1M878.4 443.1H889.1M890.8 434.6H901.5V446.4H890.8ZM890.8 440.5H901.5M896.1 434.6V446.4M903.2 437.9H913.9M909.1 434L903.7 447M908.5 439.2L913.9 447M905.3 442.4H911.7M915.6 435.2H926.3M921.5 434L916.1 438M920.9 435.6L926.3 438M916.5 439.5H925.4M916.5 443H925.4M916.5 446.6H925.4M920.9 439.1V447M928.9 434.6H937.8M928.9 438.6H937.8M928.9 442.4H937.8M928.9 446.4H937.8M933.3 434V447M941.3 434.2H950.2M941.3 436H950.2M941.3 437.8H950.2M945.7 434V438M940.4 441.4H951.1M946.3 439.1L940.9 447M945.7 442.2L951.1 447M942.5 444.2H948.9" stroke="#FBEAC5" stroke-width="1.1" fill="none"/>
</svg></body></html>
